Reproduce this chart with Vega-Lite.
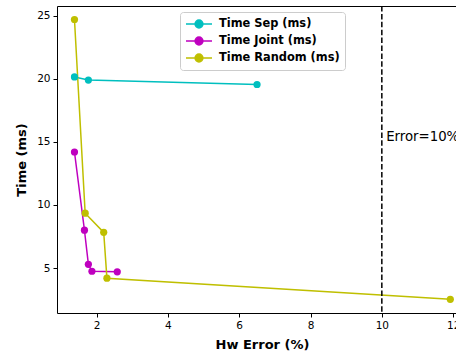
{
  "$schema": "https://vega.github.io/schema/vega-lite/v6.json",
  "width": 399,
  "height": 307,
  "autosize": {"type": "none"},
  "padding": {"left": 57, "top": 6, "right": 0, "bottom": 43},
  "config": {
    "font": "DejaVu Sans",
    "view": {"stroke": "#000000", "strokeWidth": 1},
    "axis": {
      "grid": false,
      "domain": false,
      "tickColor": "#000000",
      "tickSize": 4,
      "labelColor": "#000000",
      "labelFont": "DejaVu Sans",
      "labelFontSize": 10.5,
      "titleFont": "DejaVu Sans",
      "titleFontSize": 13,
      "titleFontWeight": "bold",
      "titleColor": "#000000"
    }
  },
  "datasets": {
    "series": [
      {"series": "Time Sep (ms)", "err": 1.38, "time": 20.15},
      {"series": "Time Sep (ms)", "err": 1.77, "time": 19.9},
      {"series": "Time Sep (ms)", "err": 6.5, "time": 19.55},
      {"series": "Time Joint (ms)", "err": 1.38, "time": 14.2},
      {"series": "Time Joint (ms)", "err": 1.66, "time": 8.0},
      {"series": "Time Joint (ms)", "err": 1.77, "time": 5.3},
      {"series": "Time Joint (ms)", "err": 1.87, "time": 4.75},
      {"series": "Time Joint (ms)", "err": 2.58, "time": 4.7},
      {"series": "Time Random (ms)", "err": 1.38, "time": 24.7},
      {"series": "Time Random (ms)", "err": 1.68, "time": 9.35},
      {"series": "Time Random (ms)", "err": 2.2, "time": 7.83},
      {"series": "Time Random (ms)", "err": 2.29, "time": 4.2},
      {"series": "Time Random (ms)", "err": 11.92, "time": 2.52}
    ],
    "ref": [{"err": 10, "label": "Error=10%", "time": 15.4}]
  },
  "layer": [
    {
      "data": {"name": "series"},
      "mark": {"type": "line", "strokeWidth": 1.5, "clip": true},
      "encoding": {
        "x": {
          "field": "err", "type": "quantitative",
          "scale": {"domain": [0.89, 12.08], "nice": false, "zero": false},
          "axis": {"values": [2, 4, 6, 8, 10, 12], "title": "Hw Error (%)", "titleX": 205, "titleY": 31, "titleBaseline": "middle", "labelPadding": 3}
        },
        "y": {
          "field": "time", "type": "quantitative",
          "scale": {"domain": [1.44, 25.77], "nice": false, "zero": false},
          "axis": {"values": [5, 10, 15, 20, 25], "title": "Time (ms)", "titleX": -36, "titleY": 153.5, "titleBaseline": "middle", "titleAlign": "center", "labelPadding": 3}
        },
        "color": {
          "field": "series", "type": "nominal",
          "scale": {"domain": ["Time Sep (ms)", "Time Joint (ms)", "Time Random (ms)"], "range": ["#00bfbf", "#bf00bf", "#bfbf00"]},
          "legend": {
            "title": null,
            "orient": "none",
            "legendX": 123,
            "legendY": 6,
            "padding": 5,
            "strokeColor": "#cccccc",
            "fillColor": "#ffffff",
            "cornerRadius": 3,
            "labelFont": "DejaVu Sans",
            "labelFontSize": 11.4,
            "labelFontWeight": "bold",
            "labelColor": "#000000",
            "rowPadding": 3,
            "clipHeight": 14,
            "symbolType": "M-1,0H1M-0.3,0A0.3,0.3 0 1,0 0.3,0A0.3,0.3 0 1,0 -0.3,0Z",
            "symbolSize": 676,
            "symbolStrokeWidth": 1.5,
            "labelOffset": 6,
            "encode": {"symbols": {"update": {"fill": {"scale": "color", "field": "value"}, "stroke": {"scale": "color", "field": "value"}}}}
          }
        }
      }
    },
    {
      "data": {"name": "series"},
      "mark": {"type": "point", "filled": true, "size": 52, "opacity": 1, "clip": true},
      "encoding": {
        "x": {"field": "err", "type": "quantitative"},
        "y": {"field": "time", "type": "quantitative"},
        "color": {"field": "series", "type": "nominal"}
      }
    },
    {
      "data": {"name": "ref"},
      "mark": {"type": "rule", "color": "#000000", "strokeWidth": 1.5, "strokeDash": [5.5, 2.4]},
      "encoding": {"x": {"field": "err", "type": "quantitative"}}
    },
    {
      "data": {"name": "ref"},
      "mark": {"type": "text", "align": "left", "baseline": "middle", "dx": 4.3, "fontSize": 13.3, "font": "DejaVu Sans", "color": "#000000"},
      "encoding": {
        "x": {"field": "err", "type": "quantitative"},
        "y": {"field": "time", "type": "quantitative"},
        "text": {"field": "label"}
      }
    }
  ]
}
